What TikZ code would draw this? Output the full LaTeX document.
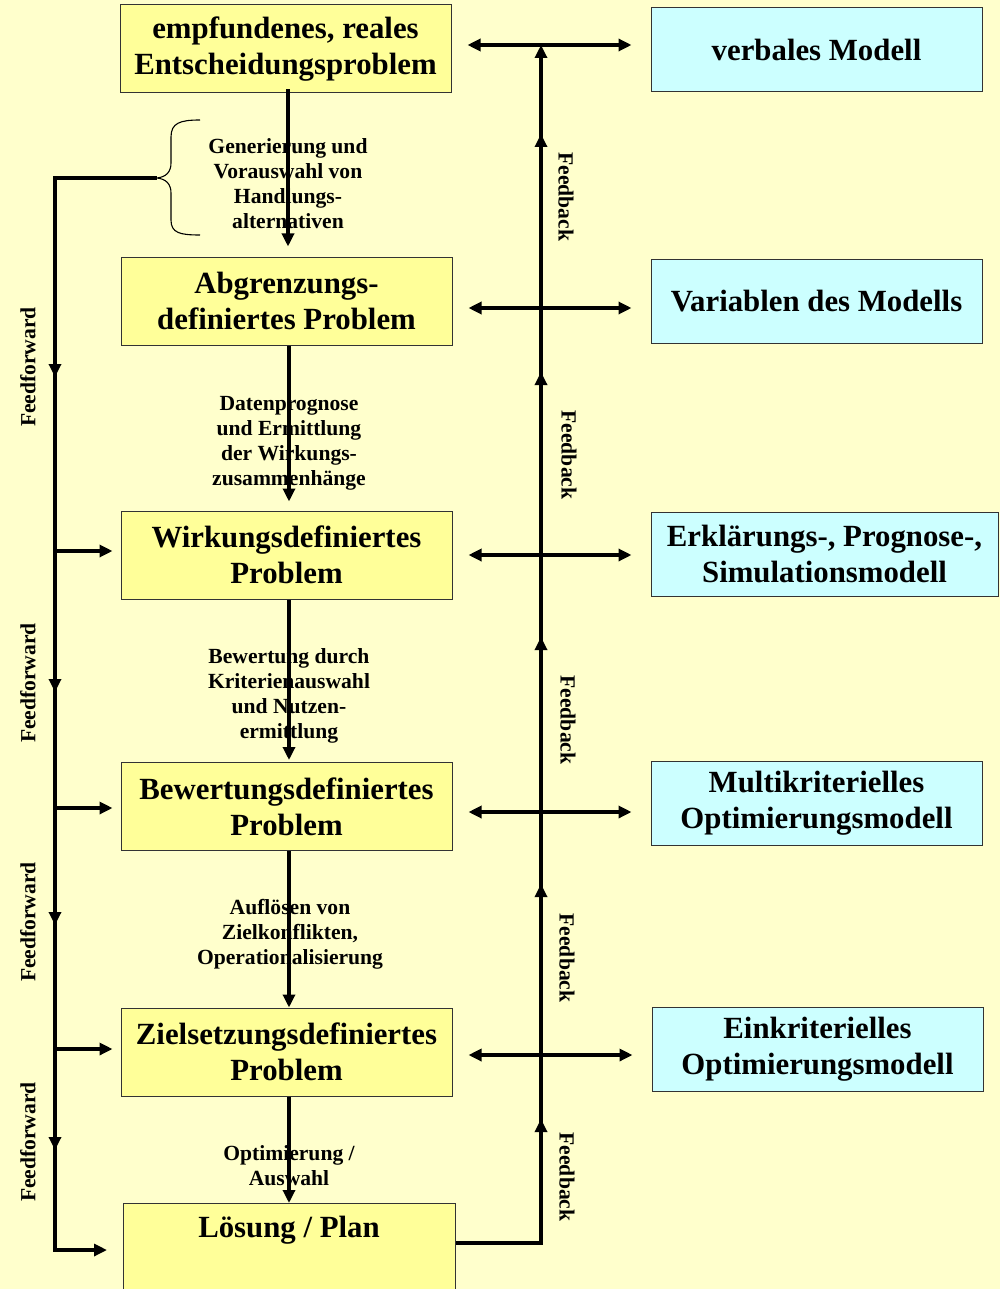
\documentclass[tikz,border=0pt]{standalone}
\usepackage{fontspec}
\setmainfont{Liberation Serif}
\usetikzlibrary{arrows.meta,decorations.markings}
\definecolor{bgcol}{HTML}{FFFFCC}
\definecolor{boxyel}{HTML}{FFFF99}
\definecolor{boxcyan}{HTML}{CCFFFF}
\newcommand\boxfont{\fontsize{30.8}{36}\selectfont\bfseries}
\newcommand\notefont{\fontsize{21.6}{25}\selectfont\bfseries}

\begin{document}
\begin{tikzpicture}[x=1pt,y=-1pt,
  >={Triangle[length=13pt,width=12pt]},
  stage/.style={draw=black!80, line width=1pt, fill=boxyel, align=center,
    font=\boxfont, inner sep=0pt, minimum width=331pt, minimum height=88pt},
  model/.style={draw=black!80, line width=1pt, fill=boxcyan, align=center,
    font=\boxfont, inner sep=0pt, minimum width=331pt, minimum height=84pt},
  note/.style={align=center, font=\notefont, inner sep=0pt},
  flow/.style={line width=3.2pt, draw=black},
  tipat/.style={postaction={decorate, decoration={markings,
    mark=at position #1 with {\arrow{>}}}}}
]
% canvas
\fill[bgcol] (0,0) rectangle (1000,1289);
\useasboundingbox (0,0) rectangle (1000,1289);
\clip (0,0) rectangle (1000,1289);

% problem stages
\node[stage] (p1) at (285.5,49) {empfundenes, reales\\Entscheidungsproblem};
\node[stage] (p2) at (286.5,301) {Abgrenzungs-\\definiertes Problem};
\node[stage] (p3) at (286.5,555) {Wirkungsdefiniertes\\Problem};
\node[stage] (p4) at (286.5,806.5) {Bewertungsdefiniertes\\Problem};
\node[stage] (p5) at (286.5,1052) {Zielsetzungsdefiniertes\\Problem};
\node[stage, minimum width=332pt, minimum height=110pt, anchor=north west] (loes) at (123,1203) {};
\node[font=\boxfont, inner sep=0pt] (loestxt) at (289,1230) {Lösung / Plan};

% model types
\node[model] (m1) at (816.5,49.5) {verbales Modell};
\node[model] (m2) at (816.5,301.5) {Variablen des Modells};
\node[model, minimum width=347pt] (m3) at (824.5,554) {Erklärungs-, Prognose-,\\Simulationsmodell};
\node[model] (m4) at (816.5,803) {Multikriterielles\\Optimierungsmodell};
\node[model] (m5) at (817.5,1049.5) {Einkriterielles\\Optimierungsmodell};

% transformation steps
\node[note] (s1) at (288,183.5) {Generierung und\\Vorauswahl von\\Handlungs-\\alternativen};
\node[note] (s2) at (289,443.5) {Datenprognose\\und Ermittlung\\der Wirkungs-\\zusammenhänge};
\node[note] (s3) at (289,695.5) {Bewertung durch\\Kriterienauswahl\\und Nutzen-\\ermittlung};
\node[note] (s4) at (290,934) {Auflösen von\\Zielkonflikten,\\Operationalisierung};
\node[note] (s5) at (289,1166) {Optimierung /\\Auswahl};

\draw[flow,->,shorten <=-4pt,shorten >=10pt] (p1.south -| s1) -- (p2.north -| s1);
\draw[flow,->,shorten >=9pt] (p2.south -| s2) -- (p3.north -| s2);
\draw[flow,->,shorten >=2pt] (p3.south -| s2) -- (p4.north -| s2);
\draw[flow,->] (p4.south -| s2) -- (p5.north -| s2);
\draw[flow,->] (p5.south -| s2) -- (loes.north -| s2);

% feedback column and stage/model links
\coordinate (j1) at (541,45);
\coordinate (j2) at (541,308);
\coordinate (j3) at (541,555);
\coordinate (j4) at (541,812);
\coordinate (j5) at (541,1055);
\coordinate (fb0) at (541,1243);

\draw[flow,->,tipat=209pt,tipat=444pt,tipat=691pt,tipat=956pt,tipat=1194pt]
  (fb0 -| loes.east) -- (fb0) -- (j1);

\foreach \j/\p/\m in {j1/p1/m1, j2/p2/m2, j3/p3/m3, j4/p4/m4, j5/p5/m5}
  \draw[flow,<->,shorten <=16pt,shorten >=19pt] (\j -| \p.east) -- (\j -| \m.west);

\node[note, rotate=-90] (fbl1) at (566,197) {Feedback};
\node[note, rotate=-90] (fbl2) at (569,455) {Feedback};
\node[note, rotate=-90] (fbl3) at (568,720) {Feedback};
\node[note, rotate=-90] (fbl4) at (567,958) {Feedback};
\node[note, rotate=-90] (fbl5) at (567,1177) {Feedback};

% brace grouping the first step, feedforward column
\draw[line width=1.1pt] (200,120) .. controls (180,120) and (171,123) .. (171,137)
  -- (171,163) .. controls (171,172) and (166,177) .. (157,178)
  .. controls (166,179) and (171,184) .. (171,193)
  -- (171,220) .. controls (171,233) and (180,235) .. (200,235);

\coordinate (brtip) at (157,178);
\coordinate (ffa) at (55,178);
\coordinate (ffb) at (55,1250);
\coordinate (b3) at (55,551);
\coordinate (b4) at (55,808);
\coordinate (b5) at (55,1049);

\draw[flow,->,shorten >=16pt,tipat=301pt,tipat=616pt,tipat=849pt,tipat=1074pt]
  (brtip) -- (ffa) -- (ffb) -- (ffb -| loes.west);
\draw[flow,->,shorten >=8pt] (b3) -- (b3 -| p3.west);
\draw[flow,->,shorten >=8pt] (b4) -- (b4 -| p4.west);
\draw[flow,->,shorten >=8pt] (b5) -- (b5 -| p5.west);

\node[note, rotate=90] (ffl1) at (28,367) {Feedforward};
\node[note, rotate=90] (ffl2) at (28,683) {Feedforward};
\node[note, rotate=90] (ffl3) at (28,922) {Feedforward};
\node[note, rotate=90] (ffl4) at (28,1142) {Feedforward};
\end{tikzpicture}
\end{document}
